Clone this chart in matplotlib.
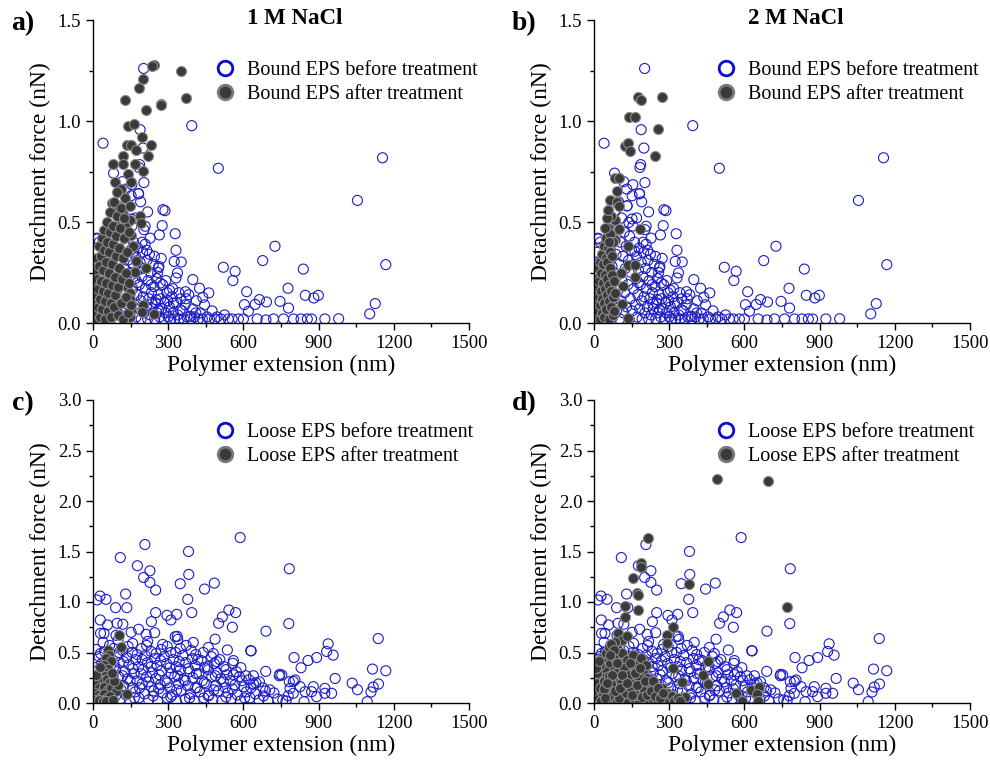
import numpy as np
import matplotlib
matplotlib.use("Agg")
import matplotlib.pyplot as plt
from matplotlib.lines import Line2D
from matplotlib.ticker import MultipleLocator

plt.rcParams['font.family'] = ['Liberation Serif', 'DejaVu Serif']

# ---- data: (polymer extension nm, detachment force nN) ----
bound_before = [
    (202, 1.26), (40, 0.89), (394, 0.977), (188, 0.957), (500, 0.766), (1155, 0.818),
    (1055, 0.607), (726, 0.38), (677, 0.309), (520, 0.276), (567, 0.256), (558, 0.21),
    (839, 0.267), (1168, 0.289), (778, 0.172), (613, 0.155), (847, 0.137), (899, 0.137),
    (881, 0.124), (746, 0.107), (692, 0.104), (664, 0.116), (647, 0.092), (604, 0.091),
    (620, 0.058), (780, 0.074), (1126, 0.096), (1104, 0.045), (980, 0.021), (925, 0.02),
    (872, 0.02), (855, 0.02), (830, 0.02), (800, 0.02), (760, 0.02), (720, 0.02), (690, 0.015),
    (655, 0.02), (600, 0.02), (580, 0.02), (279, 0.561), (287, 0.556), (276, 0.482),
    (265, 0.436), (328, 0.442), (331, 0.36), (324, 0.305), (352, 0.302), (337, 0.248),
    (331, 0.223), (398, 0.215), (425, 0.172), (462, 0.149), (438, 0.127), (369, 0.155),
    (305, 0.162), (268, 0.198), (261, 0.272), (228, 0.42), (203, 0.462), (203, 0.695),
    (182, 0.64), (186, 0.784), (82, 0.742), (16, 0.416), (252, 0.116), (321, 0.099),
    (348, 0.066), (388, 0.033), (199, 0.866), (183, 0.77), (155, 0.685), (131, 0.663),
    (152, 0.63), (181, 0.64), (132, 0.58), (152, 0.515), (139, 0.498), (208, 0.479),
    (5, 0.02), (8, 0.12), (10, 0.25), (12, 0.35), (15, 0.42), (18, 0.05), (20, 0.18),
    (22, 0.30), (25, 0.40), (28, 0.08), (30, 0.22), (33, 0.15), (35, 0.33), (38, 0.02),
    (40, 0.27), (42, 0.10), (45, 0.38), (48, 0.20), (50, 0.04), (52, 0.31), (55, 0.14),
    (58, 0.45), (60, 0.24), (62, 0.07), (65, 0.36), (68, 0.17), (70, 0.50), (72, 0.28),
    (75, 0.03), (78, 0.42), (80, 0.12), (82, 0.55), (85, 0.22), (88, 0.34), (90, 0.06),
    (92, 0.47), (95, 0.16), (98, 0.60), (100, 0.29), (102, 0.02), (105, 0.40), (108, 0.11),
    (110, 0.52), (112, 0.21), (115, 0.33), (118, 0.05), (120, 0.45), (122, 0.15), (125, 0.27),
    (128, 0.38), (130, 0.08), (132, 0.58), (135, 0.19), (138, 0.31), (140, 0.02), (142, 0.43),
    (145, 0.12), (148, 0.25), (150, 0.36), (152, 0.06), (155, 0.48), (158, 0.17), (160, 0.29),
    (162, 0.40), (165, 0.09), (168, 0.22), (170, 0.33), (172, 0.03), (175, 0.14), (178, 0.26),
    (180, 0.37), (182, 0.07), (185, 0.19), (188, 0.30), (190, 0.11), (192, 0.02), (195, 0.23),
    (198, 0.35), (200, 0.13), (203, 0.05), (205, 0.27), (208, 0.39), (210, 0.17), (213, 0.08),
    (215, 0.31), (218, 0.02), (220, 0.21), (223, 0.12), (225, 0.34), (228, 0.04), (230, 0.25),
    (233, 0.15), (236, 0.07), (240, 0.29), (243, 0.18), (246, 0.02), (250, 0.10), (253, 0.22),
    (256, 0.05), (260, 0.14), (263, 0.28), (266, 0.03), (270, 0.12), (274, 0.07), (278, 0.19),
    (282, 0.02), (286, 0.10), (290, 0.05), (295, 0.15), (300, 0.03), (305, 0.08), (310, 0.02),
    (315, 0.13), (320, 0.05), (326, 0.02), (332, 0.10), (338, 0.04), (344, 0.02), (350, 0.12),
    (356, 0.06), (362, 0.02), (368, 0.09), (375, 0.03), (382, 0.14), (390, 0.02), (398, 0.07),
    (405, 0.03), (412, 0.11), (420, 0.02), (428, 0.05), (436, 0.02), (445, 0.09), (455, 0.03),
    (465, 0.02), (475, 0.06), (485, 0.02), (495, 0.03), (510, 0.02), (525, 0.04), (540, 0.02),
    (555, 0.02), (163, 0.355), (177, 0.20), (196, 0.40), (214, 0.36), (232, 0.19),
    (245, 0.33), (258, 0.25), (272, 0.32), (290, 0.21), (235, 0.095), (262, 0.065),
    (298, 0.11), (318, 0.17), (342, 0.15), (372, 0.12), (410, 0.05), (118, 0.70),
    (170, 0.52), (218, 0.55), (190, 0.60),
]

bound_after_1m = [
    (244, 1.275), (235, 1.27), (352, 1.248), (370, 1.112), (271, 1.086), (271, 1.078),
    (199, 1.21), (185, 1.163), (129, 1.102), (211, 1.053), (138, 0.977), (165, 0.987),
    (135, 0.88), (151, 0.88), (231, 0.88), (195, 0.921), (219, 0.825), (119, 0.828),
    (171, 0.858), (80, 0.785), (119, 0.785), (169, 0.785), (198, 0.752), (139, 0.739),
    (86, 0.696), (153, 0.696), (112, 0.663), (76, 0.594), (98, 0.578), (120, 0.54),
    (188, 0.531), (191, 0.495), (149, 0.512), (129, 0.479), (153, 0.437), (110, 0.45),
    (158, 0.38), (173, 0.305), (211, 0.272), (169, 0.251), (135, 0.178), (147, 0.149),
    (149, 0.119), (199, 0.091), (151, 0.066), (195, 0.053), (245, 0.046), (148, 0.03),
    (3, 0.02), (5, 0.10), (6, 0.18), (8, 0.26), (10, 0.05), (12, 0.14), (14, 0.22), (15, 0.32),
    (18, 0.08), (20, 0.17), (22, 0.28), (24, 0.38), (26, 0.03), (28, 0.12), (30, 0.21),
    (32, 0.33), (34, 0.42), (36, 0.07), (38, 0.16), (40, 0.26), (42, 0.36), (44, 0.46),
    (46, 0.02), (48, 0.11), (50, 0.20), (52, 0.30), (54, 0.40), (56, 0.50), (58, 0.06),
    (60, 0.15), (62, 0.25), (64, 0.35), (66, 0.45), (68, 0.55), (70, 0.03), (72, 0.10),
    (74, 0.19), (76, 0.29), (78, 0.39), (80, 0.48), (82, 0.60), (84, 0.08), (86, 0.14),
    (88, 0.23), (90, 0.33), (92, 0.43), (94, 0.53), (96, 0.65), (98, 0.04), (100, 0.18),
    (102, 0.27), (105, 0.37), (108, 0.47), (110, 0.57), (112, 0.10), (115, 0.22), (118, 0.32),
    (120, 0.02), (122, 0.42), (125, 0.52), (128, 0.62), (130, 0.13), (133, 0.25), (136, 0.35),
    (140, 0.05), (142, 0.45), (145, 0.20), (148, 0.58), (150, 0.09),
]

bound_after_2m = [
    (175, 1.119), (187, 1.102), (272, 1.119), (139, 1.02), (165, 1.02), (257, 0.962),
    (123, 0.878), (136, 0.891), (145, 0.85), (245, 0.828), (83, 0.718), (101, 0.716),
    (92, 0.655), (65, 0.607), (92, 0.60), (101, 0.578), (83, 0.512), (101, 0.467),
    (183, 0.467), (85, 0.413), (135, 0.38), (136, 0.289), (165, 0.289), (165, 0.228),
    (109, 0.248), (115, 0.182), (112, 0.096), (136, 0.025),
    (3, 0.02), (5, 0.08), (6, 0.15), (8, 0.22), (10, 0.04), (12, 0.11), (14, 0.18), (15, 0.27),
    (17, 0.06), (19, 0.13), (20, 0.21), (22, 0.30), (24, 0.02), (25, 0.09), (27, 0.16),
    (28, 0.25), (30, 0.34), (32, 0.05), (33, 0.12), (35, 0.20), (36, 0.29), (38, 0.38),
    (40, 0.03), (41, 0.10), (43, 0.17), (44, 0.24), (46, 0.32), (47, 0.42), (49, 0.07),
    (50, 0.14), (52, 0.22), (53, 0.30), (55, 0.37), (56, 0.47), (58, 0.02), (59, 0.11),
    (61, 0.19), (62, 0.27), (64, 0.35), (65, 0.44), (66, 0.53), (68, 0.08), (69, 0.16),
    (71, 0.24), (72, 0.33), (74, 0.04), (75, 0.13), (77, 0.40), (78, 0.21), (80, 0.06),
    (82, 0.15), (50, 0.52), (57, 0.56), (45, 0.47), (60, 0.40),
]

loose_before = [
    (587, 1.638), (207, 1.569), (381, 1.5), (109, 1.44), (783, 1.329), (177, 1.359),
    (227, 1.309), (382, 1.273), (202, 1.243), (227, 1.194), (348, 1.181), (484, 1.187),
    (445, 1.128), (250, 1.118), (130, 1.079), (28, 1.059), (16, 1.02), (52, 1.026),
    (378, 1.026), (90, 0.944), (135, 0.944), (394, 0.895), (250, 0.895), (295, 0.868),
    (311, 0.822), (334, 0.878), (542, 0.921), (569, 0.895), (516, 0.852), (501, 0.789),
    (556, 0.75), (781, 0.786), (690, 0.711), (29, 0.822), (58, 0.773), (96, 0.789),
    (119, 0.78), (182, 0.73), (487, 0.632), (631, 0.516), (1138, 0.638), (938, 0.586),
    (932, 0.51), (958, 0.474), (802, 0.45), (892, 0.45), (858, 0.421), (830, 0.349),
    (1115, 0.336), (1168, 0.319), (966, 0.243), (1034, 0.197), (1055, 0.132), (1139, 0.188),
    (1118, 0.158), (1109, 0.109), (1094, 0.013), (743, 0.27), (689, 0.313), (799, 0.214),
    (783, 0.211), (806, 0.228), (826, 0.162), (786, 0.145), (799, 0.096), (846, 0.112),
    (872, 0.112), (879, 0.162), (892, 0.063), (925, 0.145), (925, 0.096), (952, 0.096),
    (842, 0.013), (757, 0.03), (779, 0.072), (753, 0.277), (233, 0.805), (246, 0.696),
    (328, 0.657), (536, 0.525), (629, 0.518), (558, 0.393), (745, 0.284), (44, 0.69),
    (8, 0.03), (38, 0.05), (72, 0.02), (108, 0.04), (148, 0.02), (183, 0.05), (222, 0.03),
    (258, 0.02), (296, 0.05), (332, 0.02), (368, 0.04), (404, 0.02), (442, 0.05), (478, 0.03),
    (514, 0.02), (552, 0.04), (588, 0.02), (626, 0.05), (662, 0.03), (698, 0.02), (736, 0.04),
    (770, 0.02),
    (22, 0.11), (58, 0.09), (96, 0.12), (132, 0.08), (168, 0.11), (206, 0.09), (242, 0.12),
    (278, 0.10), (316, 0.08), (352, 0.12), (388, 0.09), (426, 0.11), (463, 0.08), (500, 0.12),
    (538, 0.10), (576, 0.08), (612, 0.11), (648, 0.09), (688, 0.12), (722, 0.10),
    (14, 0.18), (50, 0.16), (86, 0.19), (122, 0.17), (158, 0.15), (196, 0.19), (232, 0.16),
    (268, 0.18), (306, 0.15), (342, 0.19), (378, 0.17), (416, 0.15), (452, 0.19), (490, 0.17),
    (528, 0.15), (566, 0.18), (602, 0.16), (640, 0.19), (678, 0.15),
    (30, 0.25), (66, 0.23), (102, 0.26), (138, 0.24), (176, 0.22), (214, 0.26), (250, 0.24),
    (288, 0.22), (326, 0.26), (362, 0.23), (398, 0.25), (436, 0.22), (474, 0.26), (510, 0.24),
    (548, 0.22), (584, 0.26), (622, 0.23), (664, 0.21),
    (18, 0.32), (54, 0.30), (90, 0.33), (126, 0.31), (164, 0.29), (200, 0.33), (236, 0.30),
    (274, 0.32), (312, 0.29), (348, 0.33), (386, 0.31), (422, 0.29), (460, 0.33), (496, 0.30),
    (534, 0.28), (572, 0.31), (610, 0.27),
    (34, 0.39), (70, 0.37), (106, 0.40), (144, 0.38), (182, 0.36), (218, 0.40), (256, 0.37),
    (294, 0.39), (332, 0.36), (370, 0.40), (408, 0.37), (446, 0.35), (484, 0.39), (522, 0.36),
    (24, 0.46), (60, 0.44), (96, 0.47), (134, 0.45), (170, 0.43), (208, 0.47), (246, 0.44),
    (284, 0.46), (320, 0.43), (358, 0.47), (396, 0.44), (432, 0.42), (472, 0.46), (506, 0.43),
    (12, 0.53), (46, 0.51), (82, 0.54), (118, 0.52), (156, 0.50), (194, 0.54), (232, 0.51),
    (272, 0.53), (310, 0.50), (348, 0.54), (392, 0.52), (440, 0.50),
    (40, 0.60), (100, 0.62), (158, 0.59), (218, 0.61), (278, 0.58), (338, 0.63), (400, 0.60),
    (30, 0.69), (92, 0.67), (152, 0.70), (212, 0.68), (336, 0.66),
    (26, 0.06), (90, 0.07), (165, 0.05), (240, 0.07), (310, 0.06), (385, 0.05), (460, 0.07),
    (530, 0.06), (605, 0.05), (680, 0.07),
    (40, 0.14), (112, 0.13), (186, 0.15), (262, 0.14), (334, 0.13), (408, 0.15), (482, 0.13),
    (556, 0.14), (630, 0.15), (705, 0.13),
    (4, 0.21), (76, 0.20), (148, 0.22), (222, 0.21), (296, 0.20), (368, 0.22), (444, 0.20),
    (520, 0.21), (594, 0.22), (650, 0.20),
    (44, 0.28), (118, 0.27), (192, 0.29), (264, 0.28), (338, 0.27), (412, 0.29), (488, 0.27),
    (560, 0.28), (640, 0.27),
    (8, 0.35), (84, 0.36), (158, 0.34), (232, 0.36), (306, 0.35), (380, 0.34), (456, 0.36),
    (530, 0.33), (590, 0.35),
    (48, 0.42), (122, 0.41), (196, 0.43), (270, 0.42), (344, 0.41), (418, 0.43), (494, 0.41),
    (560, 0.42),
    (30, 0.49), (104, 0.50), (176, 0.48), (252, 0.49), (330, 0.50), (410, 0.48), (480, 0.49),
    (66, 0.57), (140, 0.56), (214, 0.57), (296, 0.56), (372, 0.57), (460, 0.55),
]

loose_after_1m = [
    (105, 0.67), (113, 0.55), (60, 0.52), (65, 0.48), (52, 0.45), (70, 0.42), (45, 0.38),
    (58, 0.34), (30, 0.30), (40, 0.32), (48, 0.27), (20, 0.25), (35, 0.22), (55, 0.24),
    (65, 0.20), (80, 0.28), (12, 0.18), (25, 0.15), (42, 0.16), (60, 0.13), (72, 0.15),
    (90, 0.12), (8, 0.10), (18, 0.08), (30, 0.06), (45, 0.09), (55, 0.05), (68, 0.07),
    (5, 0.03), (15, 0.02), (25, 0.03), (38, 0.02), (50, 0.02), (80, 0.03), (135, 0.09),
    (100, 0.18), (85, 0.22), (10, 0.28), (28, 0.36), (75, 0.30),
]

loose_after_2m = [
    (489, 2.219), (695, 2.199), (214, 1.637), (186, 1.389), (186, 1.35), (157, 1.241),
    (170, 1.086), (176, 1.07), (124, 0.96), (174, 0.921), (124, 0.848), (380, 1.178),
    (769, 0.953), (314, 0.749), (290, 0.673), (290, 0.59), (95, 0.69), (110, 0.62),
    (85, 0.60), (130, 0.66), (456, 0.416), (316, 0.35), (434, 0.277), (352, 0.211),
    (456, 0.185), (565, 0.102), (627, 0.13), (660, 0.16), (650, 0.09), (590, 0.02),
    (656, 0.02), (363, 0.063),
    (5, 0.02), (10, 0.10), (15, 0.20), (20, 0.05), (25, 0.15), (30, 0.28), (35, 0.08),
    (40, 0.22), (45, 0.35), (50, 0.03), (55, 0.13), (60, 0.27), (65, 0.40), (70, 0.07),
    (75, 0.18), (80, 0.32), (85, 0.45), (90, 0.02), (95, 0.12), (100, 0.25), (105, 0.38),
    (110, 0.50), (115, 0.06), (120, 0.17), (125, 0.30), (130, 0.43), (135, 0.02), (140, 0.10),
    (145, 0.22), (150, 0.35), (155, 0.48), (160, 0.05), (165, 0.15), (170, 0.28), (175, 0.40),
    (180, 0.02), (185, 0.10), (190, 0.20), (195, 0.32), (200, 0.06), (205, 0.14), (210, 0.25),
    (215, 0.03), (220, 0.10), (225, 0.18), (230, 0.05), (240, 0.13), (250, 0.03), (260, 0.08),
    (270, 0.15), (280, 0.04), (290, 0.10), (300, 0.03), (310, 0.07), (320, 0.02), (335, 0.05),
    (345, 0.02),
    (12, 0.30), (22, 0.38), (32, 0.45), (48, 0.50), (58, 0.55), (68, 0.58), (78, 0.52),
    (88, 0.30), (98, 0.05), (108, 0.20), (118, 0.35), (128, 0.10), (138, 0.28), (148, 0.15),
    (158, 0.38), (168, 0.08), (178, 0.25), (188, 0.45), (198, 0.12), (208, 0.38), (8, 0.35),
    (18, 0.42), (28, 0.02), (38, 0.14), (62, 0.48), (72, 0.28),
    (42, 0.05), (52, 0.20), (82, 0.12), (92, 0.40), (102, 0.15), (112, 0.28), (132, 0.20),
    (142, 0.40), (152, 0.08), (162, 0.30), (172, 0.18), (182, 0.35), (192, 0.06), (202, 0.22),
    (212, 0.08), (228, 0.12), (235, 0.22), (245, 0.07), (255, 0.15), (265, 0.05), (275, 0.10),
]

panels = [
    ("a)", "1 M NaCl", bound_before, bound_after_1m, "Bound", 1.5),
    ("b)", "2 M NaCl", bound_before, bound_after_2m, "Bound", 1.5),
    ("c)", None, loose_before, loose_after_1m, "Loose", 3.0),
    ("d)", None, loose_before, loose_after_2m, "Loose", 3.0),
]

blue = "#1c1cc8"
dark = "#3a3a3a"
ring = "#8c8c8c"

fig = plt.figure(figsize=(9.9, 7.67), dpi=100)
W, H = 990, 767
boxes = [(93, 20), (594, 20), (93, 400), (594, 400)]  # left, top in pixels

for (tag, title, before, after, kind, ymax), (lx, ty) in zip(panels, boxes):
    ax = fig.add_axes([lx / W, 1 - (ty + 303) / H, 376 / W, 303 / H])
    b = np.array(before).T
    a = np.array(after).T
    ax.scatter(b[0], b[1], s=52, facecolors="none", edgecolors=blue, linewidths=0.8, zorder=2)
    ax.scatter(a[0], a[1], s=52, facecolors=dark, edgecolors=ring, linewidths=0.8, zorder=3)

    ax.set_xlim(0, 1500)
    ax.set_ylim(0, ymax)
    ax.xaxis.set_major_locator(MultipleLocator(300))
    ax.xaxis.set_minor_locator(MultipleLocator(150))
    ax.yaxis.set_major_locator(MultipleLocator(0.5))
    ax.yaxis.set_minor_locator(MultipleLocator(0.25))
    ax.yaxis.set_major_formatter(plt.FormatStrFormatter("%.1f"))
    for s in ["top", "right"]:
        ax.spines[s].set_visible(False)
    for s in ["left", "bottom"]:
        ax.spines[s].set_linewidth(1.0)
        ax.spines[s].set_zorder(4)
    ax.tick_params(which="major", length=5, width=1.0, labelsize=13.5, direction="out")
    ax.tick_params(which="minor", length=3, width=1.0, direction="out")
    ax.set_xlabel("Polymer extension (nm)", fontsize=17, labelpad=2)
    ax.set_ylabel("Detachment force (nN)", fontsize=17, labelpad=5)

    handles = [
        Line2D([], [], ls="none", marker="o", ms=10.5, mfc="none", mec="#0a0ad0", mew=2.0),
        Line2D([], [], ls="none", marker="o", ms=10.5, mfc=dark, mec="#7a7a7a", mew=2.0),
    ]
    top_y = 0.865 if kind == "Bound" else 0.925
    ax.legend(handles, [f"{kind} EPS before treatment", f"{kind} EPS after treatment"],
              loc="upper left", bbox_to_anchor=(0.325, top_y), frameon=False, fontsize=14.5,
              borderaxespad=0, borderpad=0, handlelength=1.0, handletextpad=0.6,
              labelspacing=0.25)

    fig.text((lx - 70) / W, 1 - (ty + 4) / H, tag, fontsize=20, fontweight="bold", va="center", ha="center")
    if title:
        fig.text((lx + 202) / W, 1 - (ty - 2) / H, title, fontsize=16.5, fontweight="bold", va="center", ha="center")

fig.savefig("out.png", dpi=100)
